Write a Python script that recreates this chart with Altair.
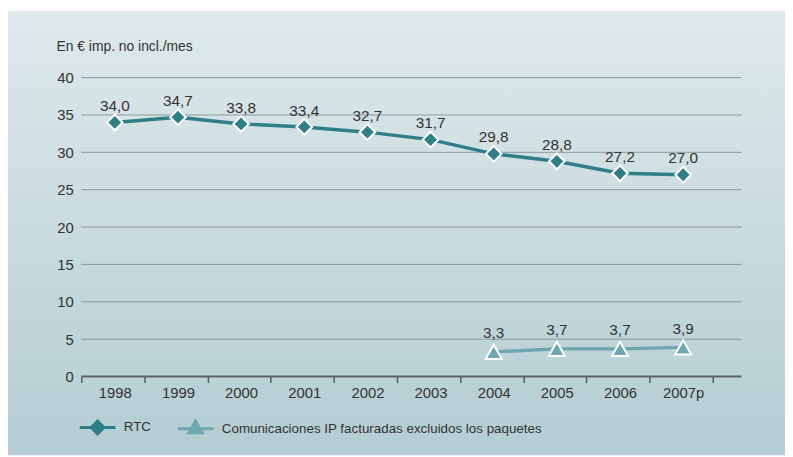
import altair as alt
import pandas as pd

# ---- data ----
years = ["1998", "1999", "2000", "2001", "2002", "2003", "2004", "2005", "2006", "2007p"]
rtc_values = [34.0, 34.7, 33.8, 33.4, 32.7, 31.7, 29.8, 28.8, 27.2, 27.0]
ip_years = ["2004", "2005", "2006", "2007p"]
ip_values = [3.3, 3.7, 3.7, 3.9]
series_names = ["RTC", "Comunicaciones IP facturadas excluidos los paquetes"]
series_colors = ["#2f7f89", "#6ea7b0"]
y_ticks = [0, 5, 10, 15, 20, 25, 30, 35, 40]
unit_title = "En € imp. no incl./mes"

# ---- style ----
W, H = 638, 302
FONT = "Liberation Sans"
TEXT = "#333333"

df = pd.DataFrame({
    "year": years + ip_years,
    "value": rtc_values + ip_values,
    "series": [series_names[0]] * len(years) + [series_names[1]] * len(ip_years),
})
df["label"] = df["value"].map(lambda v: f"{v:.1f}".replace(".", ","))
rtc_df = df[df["series"] == series_names[0]]
ip_df = df[df["series"] == series_names[1]]

x_enc = alt.X(
    "year:N",
    scale=alt.Scale(domain=years, paddingInner=0, paddingOuter=0),
    axis=alt.Axis(
        title=None, tickBand="extent", labelAngle=0, domain=False, grid=False,
        ticks=True, tickSize=6, tickColor="#555b5e", tickWidth=1.5, zindex=2,
        labelFontSize=15, labelColor=TEXT, labelFont=FONT, labelPadding=3, labelOffset=2,
    ),
)
y_scale = alt.Scale(domain=[0, 40], nice=False)
y_enc = alt.Y(
    "value:Q",
    scale=y_scale,
    axis=alt.Axis(
        title=None, values=y_ticks, grid=False, domain=False, ticks=False, zindex=2,
        labelPadding=8, labelFontSize=15, labelColor=TEXT, labelFont=FONT,
    ),
)

# background gradient panel
bg = alt.Chart(pd.DataFrame({"a": [0]})).mark_rect(
    color=alt.LinearGradient(
        gradient="linear",
        stops=[alt.GradientStop(color="#dfe9eb", offset=0),
               alt.GradientStop(color="#b3cdd2", offset=1)],
        x1=0, x2=0, y1=0, y2=1,
    )
).encode(x=alt.value(-74), x2=alt.value(711), y=alt.value(-67.5), y2=alt.value(381.5))

title_txt = alt.Chart(pd.DataFrame({"t": [unit_title]})).mark_text(
    font=FONT, fontSize=14, color=TEXT, align="left", baseline="alphabetic"
).encode(text="t:N", x=alt.value(-25), y=alt.value(-27))

grid = alt.Chart(pd.DataFrame({"value": y_ticks[1:]})).mark_rule(
    color="#8e999b", strokeWidth=1
).encode(y=y_enc, x=alt.value(0), x2=alt.value(667))

zero = alt.Chart(pd.DataFrame({"value": [0]})).mark_rule(
    color="#5a6366", strokeWidth=2
).encode(y=y_enc, x=alt.value(0), x2=alt.value(667))

rtc_line = alt.Chart(rtc_df).mark_line(color=series_colors[0], strokeWidth=3.5, xOffset=2).encode(x=x_enc, y=y_enc)
ip_line = alt.Chart(ip_df).mark_line(color=series_colors[1], strokeWidth=3.5, xOffset=2).encode(x=x_enc, y=y_enc)

rtc_pts = alt.Chart(rtc_df).mark_point(
    shape="diamond", filled=True, fill=series_colors[0], stroke="white",
    strokeWidth=2, size=250, opacity=1, xOffset=2,
).encode(x=x_enc, y=y_enc)
ip_pts = alt.Chart(ip_df).mark_point(
    shape="triangle-up", filled=True, fill=series_colors[1], stroke="white",
    strokeWidth=2, size=270, opacity=1, xOffset=2,
).encode(x=x_enc, y=y_enc)

rtc_txt = alt.Chart(rtc_df).mark_text(
    font=FONT, fontSize=15.5, color=TEXT, baseline="alphabetic", dy=-11.5, xOffset=2
).encode(x=x_enc, y=y_enc, text="label:N")
ip_txt = alt.Chart(ip_df).mark_text(
    font=FONT, fontSize=15.5, color=TEXT, baseline="alphabetic", dy=-14, xOffset=2
).encode(x=x_enc, y=y_enc, text="label:N")

legend = alt.Legend(
    title=None, orient="none", legendX=-3, legendY=334, direction="horizontal",
    columns=2, symbolSize=1296, symbolStrokeWidth=3, labelFont=FONT,
    labelFontSize=13.5, labelColor=TEXT, labelOffset=7, columnPadding=20,
    padding=0, labelLimit=700, zindex=2,
)
color_scale = alt.Scale(domain=series_names, range=series_colors)
shape_scale = alt.Scale(
    domain=series_names,
    range=[
        "M-1,0H1M0,-0.36L0.36,0L0,0.36L-0.36,0Z",
        "M-1,0H1M0,-0.42L0.38,0.22L-0.38,0.22Z",
    ],
)
legend_layer = alt.Chart(df).transform_filter("false").mark_point(
    filled=True, opacity=1, size=1296, strokeWidth=3
).encode(
    x=x_enc, y=y_enc,
    fill=alt.Fill("series:N", scale=color_scale, legend=legend),
    stroke=alt.Stroke("series:N", scale=color_scale, legend=legend),
    shape=alt.Shape("series:N", scale=shape_scale, legend=legend),
)

chart = alt.layer(
    bg, title_txt, grid, zero, rtc_line, ip_line, rtc_pts, ip_pts, rtc_txt, ip_txt, legend_layer
).properties(width=W, height=H, padding=0).configure_view(stroke=None).configure(background="white")

chart.save("out.html", embed_options={"renderer": "svg", "actions": False})
